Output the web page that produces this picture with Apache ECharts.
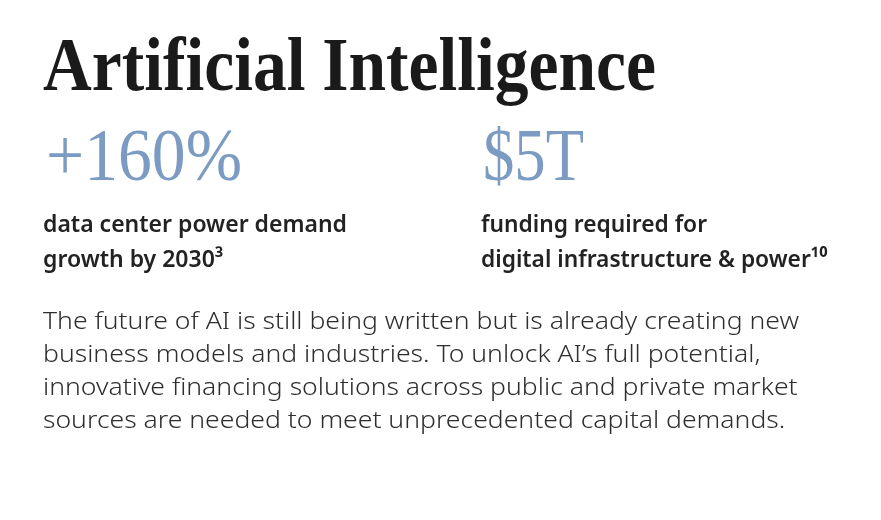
<!DOCTYPE html>
<html>
<head>
<meta charset="utf-8">
<script src="https://cdn.jsdelivr.net/npm/echarts@6/dist/echarts.min.js"></script>
<style>
    html, body { margin: 0; padding: 0; background: #fff; }
    #chart { width: 881px; height: 520px; }
</style>
</head>
<body>
<div id="chart"></div>
<script>
const titleText = 'Artificial Intelligence';
const statValues = ['+160%', '$5T'];
const statLabels = [
    ['data center power demand', 'growth by 2030³'],
    ['funding required for', 'digital infrastructure & power¹⁰'],
];
const bodyLines = [
    'The future of AI is still being written but is already creating new',
    'business models and industries. To unlock AI’s full potential,',
    'innovative financing solutions across public and private market',
    'sources are needed to meet unprecedented capital demands.',
];

const serif = '"Liberation Serif", "DejaVu Serif", serif';
const sans = '"Noto Sans", "Open Sans", sans-serif';

// canvas used only to measure text so each block can be squeezed to the picture's width
const ctx = document.createElement('canvas').getContext('2d');
const measure = (text, weight, size, family) => {
    ctx.font = weight + ' ' + size + 'px ' + family;
    return ctx.measureText(text).width;
};

const textEl = (text, x, y, size, weight, family, color, scaleX) => ({
    type: 'text',
    x, y,
    scaleX,
    style: {
        text,
        fill: color,
        font: weight + ' ' + size + 'px ' + family,
        textAlign: 'left',
        textVerticalAlign: 'middle',
    },
});

let myChart = echarts.init(document.getElementById('chart'));
const elements = [];

// title
const titleSize = 77;
elements.push(textEl(titleText, 43, 70, titleSize, 'bold', serif, '#1a1a1a',
    613 / measure(titleText, 'bold', titleSize, serif)));

// big numbers and their labels
const colX = [46, 483];
const statWidths = [196, 101];
const labelWidths = [304, 226];
const statSize = 75;
const labelSize = 24;
statValues.forEach((value, i) => {
    elements.push(textEl(value, colX[i], 160, statSize, 'normal', serif, '#7b9bc3',
        statWidths[i] / measure(value, 'normal', statSize, serif)));
    const s = labelWidths[i] / measure(statLabels[i][0], '600', labelSize, sans);
    statLabels[i].forEach((line, j) => {
        elements.push(textEl(line, colX[i] - 3 + (i ? 1 : 0), 225 + j * 35, labelSize, '600', sans, '#222222', s));
    });
});

// paragraph
const bodySize = 24;
const bodyScale = 756 / measure(bodyLines[0], '300', bodySize, sans);
bodyLines.forEach((line, i) => {
    elements.push(textEl(line, 43, 322 + i * 33, bodySize, '300', sans, '#2e2e2e', bodyScale));
});

const option = {
    backgroundColor: '#ffffff',
    animation: false,
    graphic: {elements},
};

myChart.setOption(option);
</script>
</body>
</html>
